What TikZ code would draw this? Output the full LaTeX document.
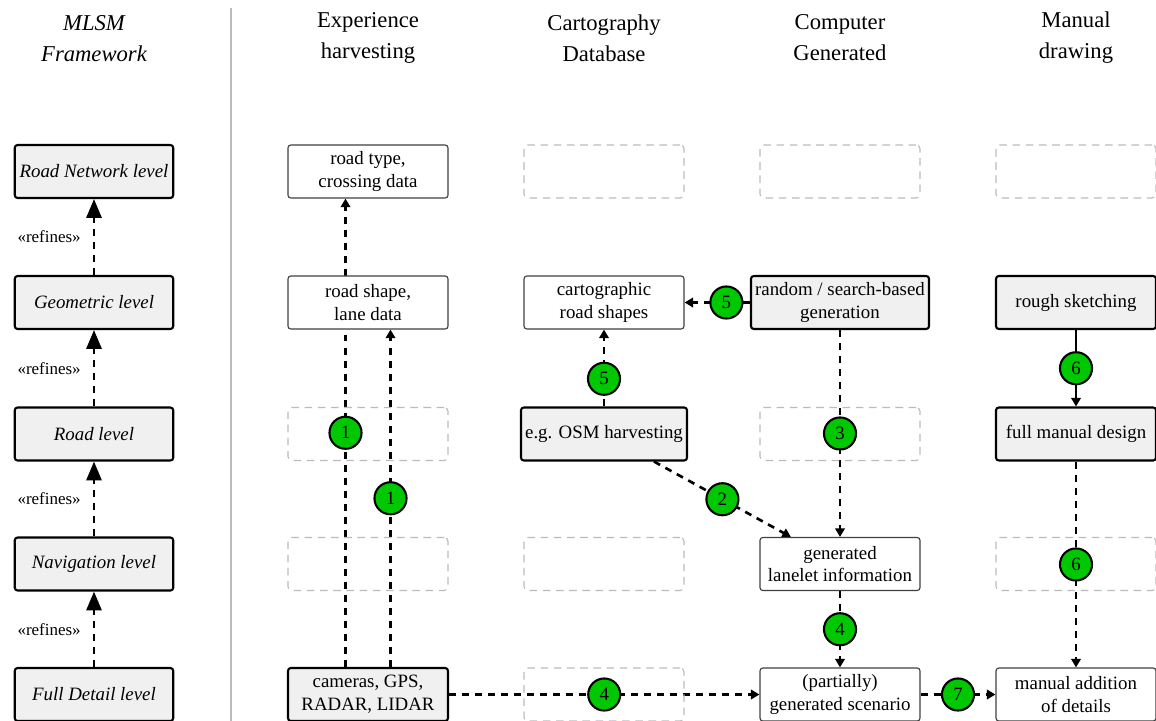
\documentclass[tikz,border=0pt]{standalone}
\usepackage{fontspec}
\setmainfont{Liberation Serif}
\usetikzlibrary{arrows.meta,calc}
\pgfdeclarelayer{bg}
\pgfsetlayers{bg,main}
\definecolor{boxgray}{HTML}{F0F0F0}
\definecolor{phgray}{HTML}{BBBBBB}
\definecolor{circgreen}{HTML}{00C800}
\tikzset{
 lvl/.style={draw=black, line width=1.1pt, fill=boxgray, rounded corners=1.5pt, minimum width=84pt, minimum height=28.1pt, font=\itshape, inner sep=2pt},
 src/.style={draw=black, line width=1.1pt, fill=boxgray, rounded corners=1.5pt, minimum width=84.8pt, minimum height=28.1pt, align=center, inner xsep=2.2pt},
 res/.style={draw=black!75, line width=0.6pt, fill=white, rounded corners=1.5pt, minimum width=84.8pt, minimum height=28.1pt, align=center, inner xsep=2pt, inner ysep=1pt},
 ph/.style={draw=phgray, dash pattern=on 4pt off 3pt, line width=0.6pt, rounded corners=2pt, minimum width=84.8pt, minimum height=28.1pt},
 num/.style={circle, solid, draw=black, line width=1.1pt, fill=circgreen, minimum size=17pt, inner sep=0pt, text=black},
 flow/.style={line width=1.4pt, dash pattern=on 3.7pt off 3.2pt, -{Triangle[length=4.5pt,width=5pt]}},
 sflow/.style={line width=1.4pt, -{Triangle[length=4.5pt,width=5pt]}},
 refarr/.style={line width=1.4pt, dash pattern=on 3.7pt off 3.2pt, -{Triangle[length=10pt,width=8pt]}},
 refl/.style={midway, left, xshift=-3pt, font=\small},
 hdr/.style={font=\fontsize{12}{16.5}\selectfont, align=center},
}
\begin{document}
\begin{tikzpicture}[x=0.53pt,y=-0.53pt]
\useasboundingbox (0,0) rectangle (1156,721);
% headers
\node[hdr, font=\fontsize{12}{16.5}\selectfont\itshape] (h0) at (94,39) {MLSM\\Framework};
\node[hdr] (h1) at (368,38) {Experience\\harvesting};
\node[hdr] (h2) at (604,38) {Cartography\\Database};
\node[hdr] (h3) at (840,38) {Computer\\Generated};
\node[hdr] (h4) at (1076,38) {Manual\\drawing};
\draw[phgray, line width=0.9pt] (231,8) -- (231,721);
% MLSM levels
\node[lvl] (L1) at (94,171.5) {Road Network level};
\node[lvl] (L2) at (94,302.5) {Geometric level};
\node[lvl] (L3) at (94,434) {Road level};
\node[lvl] (L4) at (94,564) {Navigation level};
\node[lvl] (L5) at (94,694.5) {Full Detail level};
% placeholders
\node[ph] (p21) at (604,171.5) {};
\node[ph] (p31) at (840,171.5) {};
\node[ph] (p41) at (1076,171.5) {};
\node[ph] (p13) at (368,434) {};
\node[ph] (p33) at (840,434) {};
\node[ph] (p14) at (368,564) {};
\node[ph] (p24) at (604,564) {};
\node[ph] (p44) at (1076,564) {};
\node[ph] (p25) at (604,694.5) {};
% content boxes
\node[res] (rtype) at (368,171.5) {road type,\\crossing data};
\node[res] (rshape) at (368,302.5) {road shape,\\lane data};
\node[src] (cam) at (368,694.5) {cameras, GPS,\\RADAR, LIDAR};
\node[res] (cart) at (604,302.5) {cartographic\\road shapes};
\node[src] (osm) at (604,434) {e.g. OSM harvesting};
\node[src] (rand) at (840,302.5) {random / search-based\\generation};
\node[res] (lane) at (840,564) {generated\\lanelet information};
\node[res] (scen) at (840,694.5) {(partially)\\generated scenario};
\node[src] (rough) at (1076,302.5) {rough sketching};
\node[src] (fmd) at (1076,434) {full manual design};
\node[res] (madd) at (1076,694.5) {manual addition\\of details};
\begin{pgfonlayer}{bg}
\draw[refarr] (L2) -- node[refl]{«refines»} (L1);
\draw[refarr] (L3) -- node[refl]{«refines»} (L2);
\draw[refarr] (L4) -- node[refl]{«refines»} (L3);
\draw[refarr] (L5) -- node[refl]{«refines»} (L4);
\draw[flow] ($(cam.north)+(-22.5,0)$) -- node[num]{1} ($(rtype.south)+(-22.5,0)$);
\draw[flow] ($(cam.north)+(22.5,0)$) -- node[num]{1} ($(rshape.south)+(22.5,0)$);
\draw[flow] (osm) -- node[num,pos=0.36]{5} (cart);
\draw[flow] (rand) -- node[num,pos=0.36]{5} (cart);
\draw[flow] (rand) -- node[num]{3} (lane);
\draw[flow] (osm) -- node[num]{2} (lane);
\draw[flow] (lane) -- node[num]{4} (scen);
\draw[flow] (cam) -- node[num]{4} (scen);
\draw[flow] (scen) -- node[num]{7} (madd);
\draw[sflow] (rough) -- node[num]{6} (fmd);
\draw[flow] (fmd) -- node[num]{6} (madd);
\end{pgfonlayer}
\end{tikzpicture}
\end{document}
